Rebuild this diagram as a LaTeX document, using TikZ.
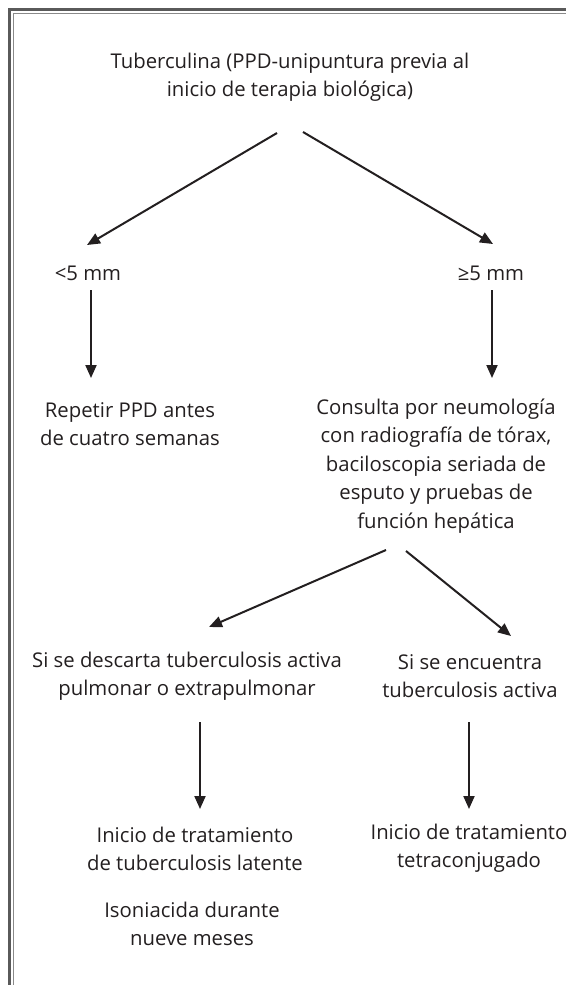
\documentclass[tikz,border=0pt]{standalone}
\usepackage{fontspec}
\setmainfont{Open Sans}
\usetikzlibrary{arrows.meta}
\definecolor{txt}{HTML}{231F20}
\definecolor{frameout}{HTML}{5A5A5A}
\definecolor{framein}{HTML}{8A8A8A}
\tikzset{
  lbl/.style={align=center, text=txt, font=\fontsize{20.3}{28.5}\selectfont, inner sep=0pt},
  arr/.style={draw=txt, line width=2pt, -{Triangle[length=13pt,width=11pt]}},
}
\begin{document}
\begin{tikzpicture}[x=1pt,y=-1pt]
\useasboundingbox (0,0) rectangle (566,985);
\fill[white] (0,0) rectangle (566,985);
% frame
\draw[frameout, line width=2.6pt] (9.3,985) -- (9.3,9.3) -- (566,9.3);
\draw[framein, line width=1.4pt] (13.6,985) -- (13.6,13.6) -- (566,13.6);
% texts
\node[lbl] (title) at (290,77) {Tuberculina (PPD-unipuntura previa al\\inicio de terapia biológica)};
\node[lbl] (lt) at (88,273) {<5 mm};
\node[lbl] (ge) at (491,273) {≥5 mm};
\node[lbl] (rep) at (130,424) {Repetir PPD antes\\de cuatro semanas};
\node[lbl] (cons) at (436,466) {Consulta por neumología\\con radiografía de tórax,\\baciloscopia seriada de\\esputo y pruebas de\\función hepática};
\node[lbl] (desc) at (187,676) {Si se descarta tuberculosis activa\\pulmonar o extrapulmonar};
\node[lbl] (enc) at (470,676) {Si se encuentra\\tuberculosis activa};
\node[lbl] (lat) at (195,849) {Inicio de tratamiento\\de tuberculosis latente};
\node[lbl] (tetra) at (469,848) {Inicio de tratamiento\\tetraconjugado};
\node[lbl] (iso) at (192,924) {Isoniacida durante\\nueve meses};
% arrow ends
\coordinate (t1) at (277,133);
\coordinate (t2) at (303,132);
\coordinate (e1) at (87,245);
\coordinate (e2) at (493,244);
\coordinate (v1s) at (91,290);
\coordinate (v1e) at (91,378);
\coordinate (v2s) at (492,290);
\coordinate (v2e) at (492,378);
\coordinate (c1) at (386,550);
\coordinate (c2) at (406,551);
\coordinate (d1) at (209,627);
\coordinate (d2) at (511,636);
\coordinate (v3s) at (200,722);
\coordinate (v3e) at (200,809);
\coordinate (v4s) at (469,722);
\coordinate (v4e) at (469,809);
\draw[arr] (t1) -- (e1);
\draw[arr] (t2) -- (e2);
\draw[arr] (v1s) -- (v1e);
\draw[arr] (v2s) -- (v2e);
\draw[arr] (c1) -- (d1);
\draw[arr] (c2) -- (d2);
\draw[arr] (v3s) -- (v3e);
\draw[arr] (v4s) -- (v4e);
\end{tikzpicture}
\end{document}
